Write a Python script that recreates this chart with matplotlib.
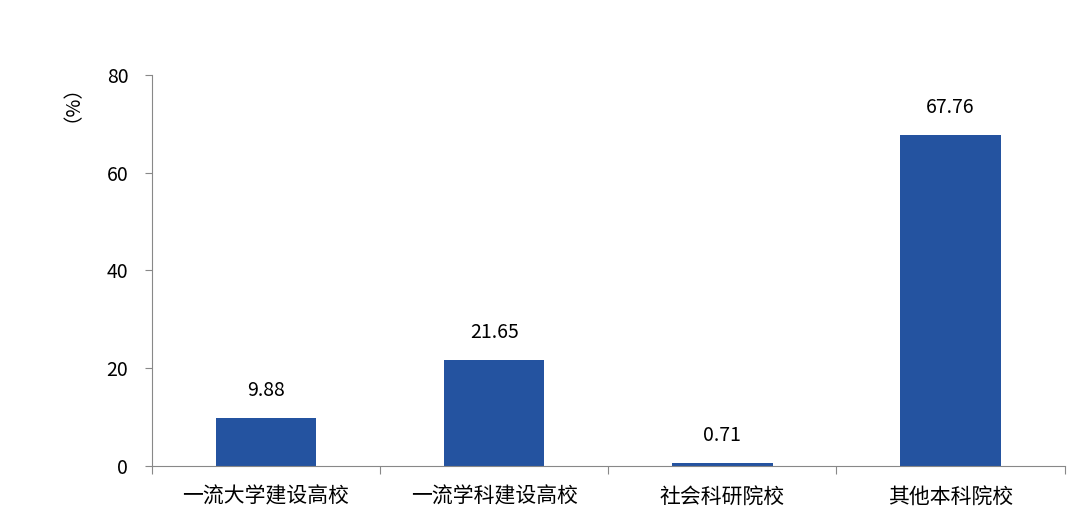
import matplotlib
matplotlib.use("Agg")
import matplotlib.pyplot as plt

plt.rcParams['font.family'] = ['Noto Sans CJK SC', 'DejaVu Sans']

categories = ["一流大学建设高校", "一流学科建设高校", "社会科研院校", "其他本科院校"]
values = [9.88, 21.65, 0.71, 67.76]
yticks = [0, 20, 40, 60, 80]

fig = plt.figure(figsize=(10.8, 5.21), dpi=100)
ax = fig.add_axes([0.1407, 0.1056, 0.845, 0.7505])
xs = range(len(categories))
ax.bar(xs, values, width=0.44, color="#2453a0")
for x, v in zip(xs, values):
    ax.annotate(f"{v:.2f}", (x, v), textcoords="offset points", xytext=(0, 12),
                ha="center", va="bottom", fontsize=14)

ax.set_xlim(-0.5, len(categories) - 0.5)
ax.set_ylim(0, 80)
ax.set_yticks(yticks)
ax.tick_params(axis="y", labelsize=14, length=5, color="#888888", pad=12)
ax.set_xticks([i - 0.5 for i in range(len(categories) + 1)], minor=False)
ax.set_xticklabels([])
ax.set_xticks(list(xs), minor=True)
ax.set_xticklabels(categories, minor=True, fontsize=15)
ax.tick_params(axis="x", which="major", length=6, color="#888888")
ax.tick_params(axis="x", which="minor", length=0, pad=14)
for s in ("top", "right"):
    ax.spines[s].set_visible(False)
for s in ("left", "bottom"):
    ax.spines[s].set_color("#888888")

fig.text(0.058, 0.82, "（%）", rotation=90, ha="center", va="center", fontsize=14)
fig.savefig("out.png", dpi=100)
